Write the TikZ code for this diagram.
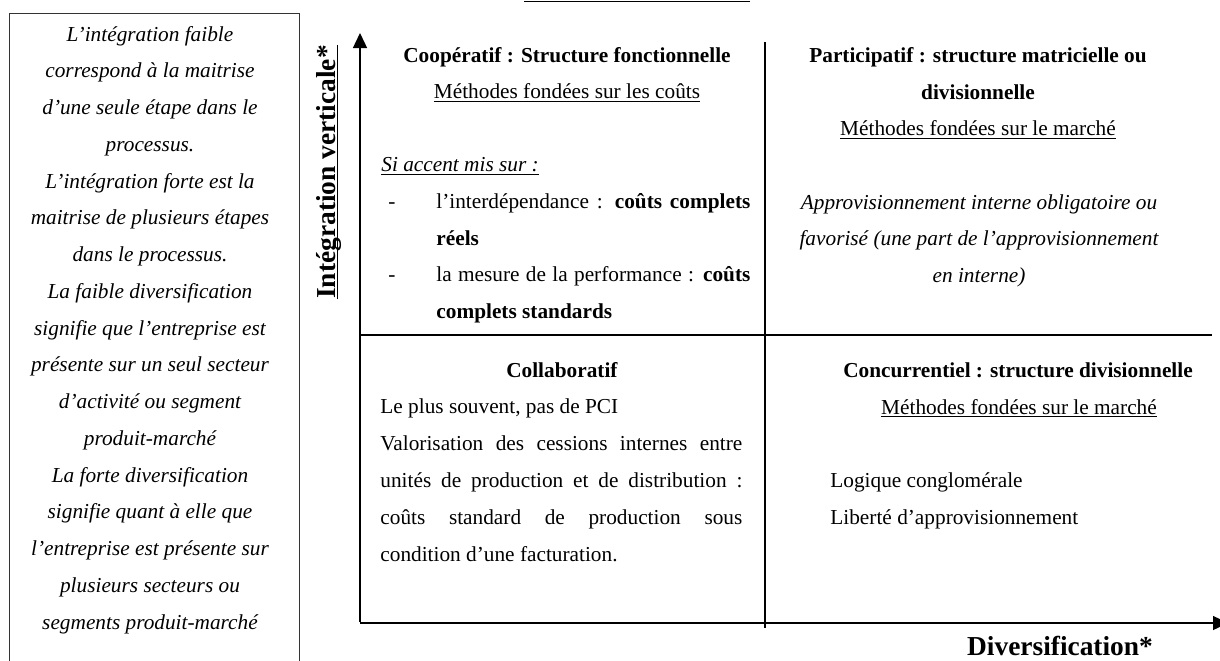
\documentclass[tikz,border=0pt]{standalone}
\usepackage{fontspec}
\setmainfont{Liberation Serif}
\usetikzlibrary{arrows.meta}
% sizes: one unit of the picture is half a point
\newcommand{\bodysize}{\fontsize{10.65}{12.8}\selectfont}
\newcommand{\axissize}{\fontsize{13.7}{16}\selectfont}
\newcommand{\ulin}[1]{\underline{\smash{#1}}}
\newcommand{\justline}[2]{\makebox[#1][s]{#2}}
\tikzset{
  txt/.style={inner sep=0, anchor=base, font=\bodysize},
  txtl/.style={txt, anchor=base west},
  notetxt/.style={txt, font=\bodysize\itshape},
  axislabel/.style={inner sep=0, anchor=base, font=\axissize\bfseries},
  rule/.style={line width=0.7pt, black},
  axis/.style={rule, -{Triangle[length=7.5pt,width=7pt]}},
}
\begin{document}
\begin{tikzpicture}[x=0.5pt,y=-0.5pt]
\useasboundingbox (0,0) rectangle (1220,660);
\clip (0,0) rectangle (1220,660);

% underline of the caption above the matrix
\coordinate (capL) at (524,1.7);
\coordinate (capR) at (750,1.7);
\draw[line width=0.65pt] (capL) -- (capR);

% definitions box on the left
\coordinate (boxNW) at (9,13);
\coordinate (boxSE) at (299,680);
\draw[line width=0.5pt, black!80] (boxNW) rectangle (boxSE);
\foreach \t [count=\i from 0] in {
  L’intégration faible,
  correspond à la maitrise,
  d’une seule étape dans le,
  processus.,
  L’intégration forte est la,
  maitrise de plusieurs étapes,
  dans le processus.,
  La faible diversification,
  signifie que l’entreprise est,
  présente sur un seul secteur,
  d’activité ou segment,
  produit-marché,
  La forte diversification,
  signifie quant à elle que,
  l’entreprise est présente sur,
  plusieurs secteurs ou,
  segments produit-marché}
  \node[notetxt] (note\i) at (150,{41+36.75*\i}) {\t};

% axes
\coordinate (origin) at (360,623);
\coordinate (ybot) at (360,622);
\coordinate (ytip) at (360,33);
\coordinate (xtip) at (1228,623);
\draw[axis] (ybot) -- (ytip);
\draw[axis] (origin) -- (xtip);

% quadrant separators
\coordinate (vtop) at (765,42);
\coordinate (vbot) at (765,628);
\coordinate (hleft) at (360,335);
\coordinate (hright) at (1212,335);
\draw[rule] (vtop) -- (vbot);
\draw[rule] (hleft) -- (hright);

% axis titles
\node[axislabel, rotate=90] (ylab) at (335,172) {\ulin{Intégration verticale*}};
\node[axislabel] (xlab) at (1060,655) {Diversification*};

% top left: cooperative
\node[txt] (coopT) at (567,62) {\textbf{Coopératif : Structure fonctionnelle}};
\node[txt] (coopM) at (567,98.6) {\ulin{Méthodes fondées sur les coûts}};
\node[txtl] (coopS) at (381,171.8) {\itshape\ulin{Si accent mis sur :}};
\node[txt] (dashA) at (392,208.4) {-};
\node[txtl] (coopA) at (436,208.4) {\justline{157pt}{l’interdépendance : \textbf{coûts complets}}};
\node[txtl] (coopA2) at (436,245) {\textbf{réels}};
\node[txt] (dashB) at (392,281.6) {-};
\node[txtl] (coopB) at (436,281.6) {\justline{157pt}{la mesure de la performance : \textbf{coûts}}};
\node[txtl] (coopB2) at (436,318.2) {\textbf{complets standards}};

% top right: participative
\node[txt] (partT) at (978,62.5) {\textbf{Participatif : structure matricielle ou}};
\node[txt] (partT2) at (978,99) {\textbf{divisionnelle}};
\node[txt] (partM) at (978,135.6) {\ulin{Méthodes fondées sur le marché}};
\node[txt] (partA) at (979,209) {\itshape Approvisionnement interne obligatoire ou};
\node[txt] (partB) at (979,245.6) {\itshape favorisé (une part de l’approvisionnement};
\node[txt] (partC) at (979,282.2) {\itshape en interne)};

% bottom left: collaborative
\node[txt] (collT) at (562,377) {\textbf{Collaboratif}};
\node[txtl] (collA) at (380,413.8) {Le plus souvent, pas de PCI};
\node[txtl] (collB) at (380,450.6) {\justline{181pt}{Valorisation des cessions internes entre}};
\node[txtl] (collC) at (380,487.4) {\justline{181pt}{unités de production et de distribution :}};
\node[txtl] (collD) at (380,524.2) {\justline{181pt}{coûts standard de production sous}};
\node[txtl] (collE) at (380,561) {condition d’une facturation.};

% bottom right: competitive
\node[txt] (concT) at (1018,377.5) {\textbf{Concurrentiel : structure divisionnelle}};
\node[txt] (concM) at (1019,414) {\ulin{Méthodes fondées sur le marché}};
\node[txtl] (concA) at (830,487.6) {Logique conglomérale};
\node[txtl] (concB) at (830,524.2) {Liberté d’approvisionnement};
\end{tikzpicture}
\end{document}
